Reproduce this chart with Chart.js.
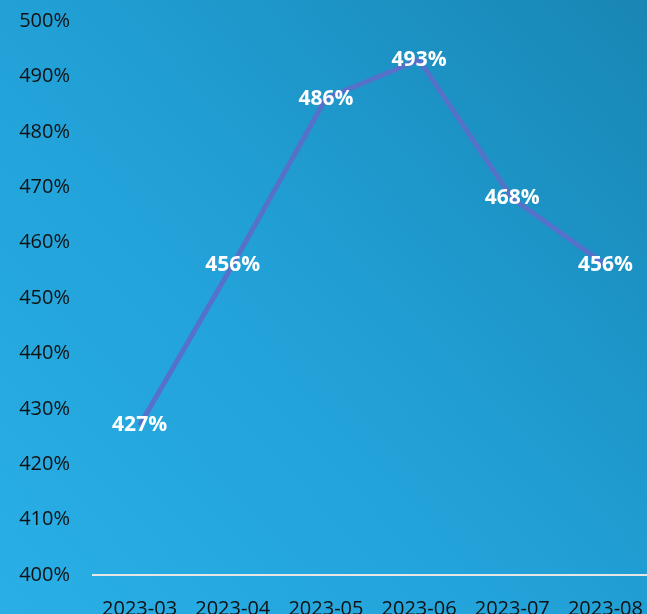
<!DOCTYPE html>
<html>
<head>
<meta charset="utf-8">
<script src="https://cdn.jsdelivr.net/npm/chart.js@4/dist/chart.umd.min.js"></script>
<style>
    html, body { margin: 0; padding: 0; background: #1f9bd0; }
    #wrap { width: 647px; height: 614px; }
</style>
</head>
<body>
<div id="wrap"><canvas id="lineChart" width="647" height="614"></canvas></div>
<script>
const months = ['2023-03', '2023-04', '2023-05', '2023-06', '2023-07', '2023-08'];
const ratios = [427, 456, 486, 493, 468, 456];
const yTicks = [400, 410, 420, 430, 440, 450, 460, 470, 480, 490, 500];

const FONT = '"Open Sans", "Noto Sans", sans-serif';

// Diagonal blue gradient behind everything
const bgPlugin = {
    id: 'bg',
    beforeDraw(chart) {
        const ctx = chart.ctx;
        const w = chart.width, h = chart.height;
        const g = ctx.createLinearGradient(0, h, w, 0);
        g.addColorStop(0, '#29afe6');
        g.addColorStop(0.5, '#21a0d6');
        g.addColorStop(1, '#1886b4');
        ctx.save();
        ctx.fillStyle = g;
        ctx.fillRect(0, 0, w, h);
        ctx.restore();
    }
};

// The plot area runs a few pixels past the right edge in the original
const widenPlugin = {
    id: 'widen',
    afterLayout(chart) {
        const x = chart.scales.x;
        x.right = 652;
        x.width = x.right - x.left;
        x.configure();
        chart.chartArea.right = 652;
        chart.chartArea.width = chart.chartArea.right - chart.chartArea.left;
    }
};

// White value labels centred on each point
const labelPlugin = {
    id: 'valueLabels',
    afterDatasetsDraw(chart) {
        const ctx = chart.ctx;
        const meta = chart.getDatasetMeta(0);
        ctx.save();
        ctx.fillStyle = '#ffffff';
        ctx.font = 'bold 21px ' + FONT;
        ctx.textAlign = 'center';
        ctx.textBaseline = 'middle';
        meta.data.forEach(function (pt, i) {
            ctx.fillText(ratios[i] + '%', pt.x, pt.y);
        });
        ctx.restore();
    }
};

const ctx = document.getElementById('lineChart').getContext('2d');
new Chart(ctx, {
    type: 'line',
    data: {
        labels: months,
        datasets: [{
            data: ratios,
            borderColor: '#5571c9',
            borderWidth: 5,
            pointRadius: 0,
            tension: 0
        }]
    },
    options: {
        responsive: false,
        animation: false,
        layout: { padding: { top: 21, right: 0, left: 0, bottom: 0 } },
        plugins: {
            legend: { display: false },
            tooltip: { enabled: false }
        },
        scales: {
            x: {
                offset: true,
                grid: { display: false },
                border: { display: true, color: '#e6e6e6', width: 2 },
                ticks: {
                    color: '#111111',
                    font: { family: FONT, size: 20 },
                    padding: 14,
                    maxRotation: 0,
                    autoSkip: false
                },
                afterFit(scale) {
                    scale.height = 39;
                    scale.paddingLeft = 0;
                    scale.paddingRight = 0;
                }
            },
            y: {
                min: 400,
                max: 500,
                grid: { display: false },
                border: { display: false },
                afterBuildTicks(scale) {
                    scale.ticks = yTicks.map(v => ({ value: v }));
                },
                ticks: {
                    color: '#111111',
                    font: { family: FONT, size: 20 },
                    padding: 15,
                    callback: v => v + '%'
                },
                afterFit(scale) {
                    scale.width = 93;
                    scale.paddingTop = 0;
                    scale.paddingBottom = 0;
                }
            }
        }
    },
    plugins: [bgPlugin, widenPlugin, labelPlugin]
});
</script>
</body>
</html>
